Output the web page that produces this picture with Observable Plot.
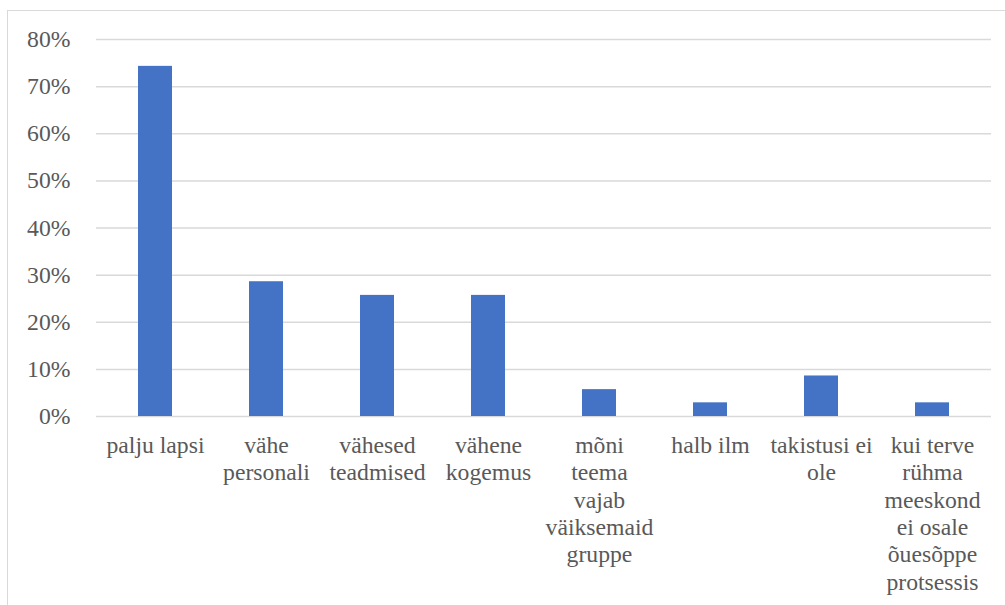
<!DOCTYPE html>
<html>
<head>
<meta charset="utf-8">
<script src="https://cdn.jsdelivr.net/npm/d3@7"></script>
<script src="https://cdn.jsdelivr.net/npm/@observablehq/plot@0.6"></script>
<style>
  html, body { margin: 0; padding: 0; background: #fff; overflow: hidden; }
  #wrap { position: relative; width: 1005px; height: 605px; }
  #border { position: absolute; left: 7px; top: 10px; width: 1100px; height: 700px;
            border-left: 1.5px solid #d9d9d9; border-top: 1.5px solid #d9d9d9; }
  #chart { position: absolute; left: 0; top: 0; }
  #chart svg text, #chart svg tspan { white-space: pre; }
</style>
</head>
<body>
<div id="wrap"><div id="border"></div><div id="chart"></div></div>
<script>
const categories = [
  "palju lapsi",
  "vähe personali",
  "vähesed teadmised",
  "vähene kogemus",
  "mõni teema vajab väiksemaid gruppe",
  "halb ilm",
  "takistusi ei ole",
  "kui terve rühma meeskond ei osale õuesõppe protsessis"
];
const tickLabels = [
  "palju lapsi",
  "vähe\npersonali",
  "vähesed\nteadmised",
  "vähene\nkogemus",
  "mõni\nteema\nvajab\nväiksemaid\ngruppe",
  "halb ilm",
  "takistusi ei\nole",
  "kui terve\nrühma\nmeeskond\nei osale\nõuesõppe\nprotsessis"
];
const values = [0.743, 0.286, 0.257, 0.257, 0.057, 0.029, 0.086, 0.029];
const yTicks = [0, 0.1, 0.2, 0.3, 0.4, 0.5, 0.6, 0.7, 0.8];

const data = categories.map((c, i) => ({category: c, value: values[i], label: tickLabels[i]}));

const font = "Liberation Serif";
const chart = Plot.plot({
  width: 1005,
  height: 605,
  marginLeft: 96,
  marginRight: 14,
  marginTop: 39,
  marginBottom: 189,
  style: {fontSize: "23.7px", color: "#595959", background: "transparent"},
  x: {domain: categories, paddingInner: 0.69, paddingOuter: 0.345, axis: null},
  y: {domain: [0, 0.8], ticks: yTicks, tickFormat: d3.format(".0%"), tickSize: 0, tickPadding: 26, label: null},
  marks: [
    Plot.ruleY(yTicks, {stroke: "#d9d9d9", strokeWidth: 1.5}),
    Plot.barY(data, {x: "category", y: "value", fill: "#4472C4"}),
    Plot.text(data, {
      x: "category", y: () => 0, text: "label",
      lineAnchor: "top", lineHeight: 1.16, dy: 16.5,
      fontSize: 23.7, fill: "#595959", textAnchor: "middle"
    })
  ]
});
function applyFont(svg) {
  svg.setAttribute("font-family", font);
  svg.style.fontFamily = font;
  svg.querySelectorAll("g, text, tspan").forEach(el => {
    el.setAttribute("font-family", font);
    el.style.fontFamily = font;
  });
}
chart.removeAttribute("class");
chart.querySelectorAll("style").forEach(s => s.remove());
chart.style.display = "block";
applyFont(chart);
document.getElementById("chart").appendChild(chart);
window.addEventListener("load", () => applyFont(chart));
setTimeout(() => applyFont(chart), 50);
</script>
</body>
</html>
